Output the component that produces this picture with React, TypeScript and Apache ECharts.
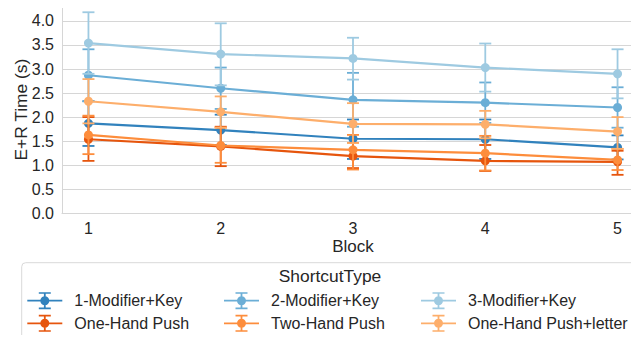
import React, { useEffect, useRef } from "react";
import * as echarts from "echarts";

const blocks = [1, 2, 3, 4, 5];

const seriesNames = [
  "1-Modifier+Key",
  "One-Hand Push",
  "2-Modifier+Key",
  "Two-Hand Push",
  "3-Modifier+Key",
  "One-Hand Push+letter",
];
const seriesColors = ["#3182bd", "#e6550d", "#6baed6", "#fd8d3c", "#9ecae1", "#fdae6b"];

const oneModMean = [1.87, 1.73, 1.55, 1.54, 1.37];
const oneModLow = [1.4, 1.42, 1.13, 1.13, 1.12];
const oneModHigh = [2.33, 2.05, 1.95, 1.95, 1.62];

const ohpMean = [1.54, 1.39, 1.19, 1.09, 1.07];
const ohpLow = [1.09, 0.98, 0.94, 0.88, 0.8];
const ohpHigh = [2.0, 1.8, 1.46, 1.42, 1.3];

const twoModMean = [2.87, 2.6, 2.36, 2.3, 2.2];
const twoModLow = [2.33, 2.17, 1.8, 1.88, 1.78];
const twoModHigh = [3.41, 3.03, 2.92, 2.72, 2.62];

const thpMean = [1.63, 1.41, 1.32, 1.25, 1.11];
const thpLow = [1.23, 1.05, 0.91, 0.89, 0.9];
const thpHigh = [2.03, 1.78, 1.63, 1.61, 1.34];

const threeModMean = [3.54, 3.31, 3.22, 3.03, 2.9];
const threeModLow = [2.9, 2.66, 2.78, 2.53, 2.39];
const threeModHigh = [4.18, 3.95, 3.65, 3.53, 3.41];

const ohplMean = [2.33, 2.11, 1.86, 1.85, 1.7];
const ohplLow = [1.87, 1.78, 1.46, 1.56, 1.34];
const ohplHigh = [2.79, 2.43, 2.29, 2.13, 2.0];

const means = [oneModMean, ohpMean, twoModMean, thpMean, threeModMean, ohplMean];
const lows = [oneModLow, ohpLow, twoModLow, thpLow, threeModLow, ohplLow];
const highs = [oneModHigh, ohpHigh, twoModHigh, thpHigh, threeModHigh, ohplHigh];

const xTickLabels = [1, 2, 3, 4, 5];

const FONT = "'Liberation Sans', Arial, sans-serif";
const TEXT = "#262626";
const GRID = "#d6d6d6";

const ICON =
  "path://M0 7.6H35V9.4H0Z M16.6 0H18.4V17H16.6Z M11.5 0H23.5V1.6H11.5Z M11.5 15.4H23.5V17H11.5Z M13 8.5A4.5 4.5 0 1 1 22 8.5A4.5 4.5 0 1 1 13 8.5Z";

export default function App() {
  const ref = useRef<HTMLDivElement>(null);

  useEffect(() => {
    if (!ref.current) return;
    const chart = echarts.init(ref.current, undefined, { renderer: "svg" });

    const series: any[] = [];
    seriesNames.forEach((name, i) => {
      const color = seriesColors[i];
      series.push({
        type: "custom",
        name: "eb-" + i,
        z: 2 + i,
        silent: true,
        data: blocks.map((b, k) => [b, lows[i][k], highs[i][k]]),
        encode: { x: 0, y: [1, 2] },
        renderItem: (params: any, api: any) => {
          const x = api.value(0);
          const pLo = api.coord([x, api.value(1)]);
          const pHi = api.coord([x, api.value(2)]);
          const hw = 6;
          const style = { stroke: color, lineWidth: 1.8, fill: "none" };
          return {
            type: "group",
            children: [
              { type: "line", shape: { x1: pLo[0], y1: pLo[1], x2: pHi[0], y2: pHi[1] }, style },
              { type: "line", shape: { x1: pLo[0] - hw, y1: pLo[1], x2: pLo[0] + hw, y2: pLo[1] }, style },
              { type: "line", shape: { x1: pHi[0] - hw, y1: pHi[1], x2: pHi[0] + hw, y2: pHi[1] }, style },
            ],
          };
        },
      });
      series.push({
        type: "line",
        name,
        z: 2 + i,
        data: blocks.map((b, k) => [b, means[i][k]]),
        symbol: "circle",
        symbolSize: 9,
        showSymbol: true,
        lineStyle: { color, width: 2.2 },
        itemStyle: { color },
        emphasis: { disabled: true },
      });
    });

    const legendCols = [
      [seriesNames[0], seriesNames[1]],
      [seriesNames[2], seriesNames[3]],
      [seriesNames[4], seriesNames[5]],
    ];
    const legendLefts = [27.3, 224, 421];

    const legends = legendCols.map((names, c) => ({
      orient: "vertical",
      left: legendLefts[c],
      top: 292.2,
      padding: 0,
      itemGap: 5.6,
      itemWidth: 35,
      itemHeight: 17,
      icon: ICON,
      selectedMode: false,
      data: names,
      textStyle: {
        fontFamily: FONT,
        fontSize: 16,
        color: TEXT,
        lineHeight: 17,
        padding: [0, 0, 0, 7],
      },
    }));

    chart.setOption({
      animation: false,
      backgroundColor: "#ffffff",
      grid: { left: 62, top: 6, right: -5, bottom: 129.7, containLabel: false, outerBoundsMode: "none" },
      xAxis: {
        type: "value",
        min: 0.8,
        max: 5.2,
        name: "Block",
        nameLocation: "middle",
        nameGap: 25,
        nameMoveOverlap: false,
        nameTextStyle: { fontFamily: FONT, fontSize: 17, color: TEXT },
        axisLine: { show: true, lineStyle: { color: GRID, width: 1 } },
        axisTick: { show: false },
        splitLine: { show: false },
        axisLabel: {
          customValues: xTickLabels,
          fontFamily: FONT,
          fontSize: 16,
          color: TEXT,
          margin: 7,
          formatter: (v: number) => String(v),
        },
      },
      yAxis: {
        type: "value",
        min: 0,
        max: 4.31,
        interval: 0.5,
        name: "E+R Time (s)",
        nameLocation: "middle",
        nameGap: 33,
        nameMoveOverlap: false,
        nameTextStyle: { fontFamily: FONT, fontSize: 17.4, color: TEXT },
        axisLine: { show: true, lineStyle: { color: GRID, width: 1 } },
        axisTick: { show: false },
        splitLine: { show: true, lineStyle: { color: GRID, width: 1 } },
        axisLabel: {
          fontFamily: FONT,
          fontSize: 16,
          color: TEXT,
          margin: 8,
          showMaxLabel: false,
          formatter: (v: number) => (Math.abs(v / 0.5 - Math.round(v / 0.5)) < 1e-6 ? v.toFixed(1) : ""),
        },
      },
      legend: legends,
      graphic: [
        {
          type: "rect",
          z: 1,
          shape: { x: 21.7, y: 262.7, width: 615.5, height: 76.6, r: 4 },
          style: { fill: "#ffffff", stroke: "#d9d9d9", lineWidth: 1 },
        },
        {
          type: "text",
          z: 2,
          x: 330,
          y: 276,
          style: {
            text: "ShortcutType",
            fontFamily: FONT,
            fontSize: 17.4,
            fill: TEXT,
            align: "center",
            verticalAlign: "middle",
          },
        },
      ],
      series,
    });

    return () => chart.dispose();
  }, []);

  return <div ref={ref} style={{ width: 639, height: 343, margin: -8 }} />;
}
